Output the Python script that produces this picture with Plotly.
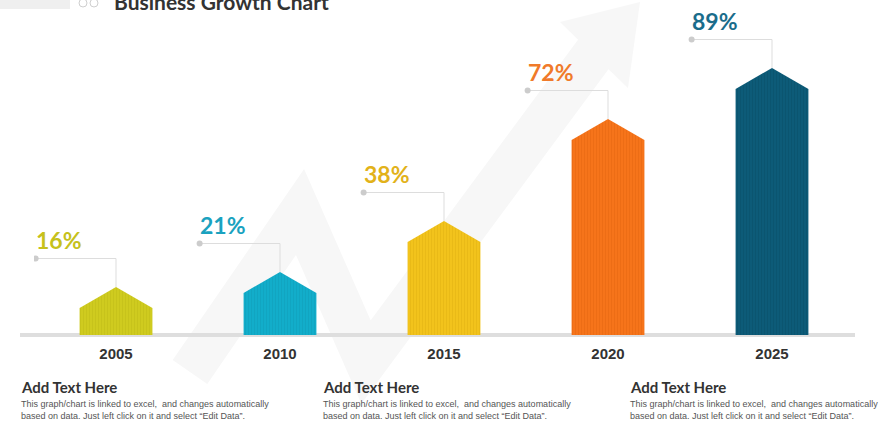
import plotly.graph_objects as go

# data
years = ["2005", "2010", "2015", "2020", "2025"]
growth = [16, 21, 38, 72, 89]
bar_colors = ["#cfcb1f", "#12adca", "#f2c31c", "#f6741a", "#0d5b78"]
stripe_colors = ["#b9b515", "#0f98b3", "#d9ab10", "#e0620c", "#084a63"]
label_colors = ["#c6c11c", "#1aa2bf", "#e2b21a", "#f07a2a", "#1a6c8b"]

title_text = "Business Growth Chart"
block_title = "Add Text Here"
block_body = ("This graph/chart is linked to excel,  and changes automatically<br>"
              "based on data. Just left click on it and select \u201cEdit Data\u201d.")
block_x = [19, 321, 628]

W, H = 889, 421
HALF = 0.222      # half bar width in category units
SHOULDER = 7      # roof height in value units
LEAD = 9.5        # leader line offset above peak


def px(x, y):
    return x / W, 1 - y / H


fig = go.Figure()

# bars (house shaped, vertical stripe texture)
for i, (yr, v) in enumerate(zip(years, growth)):
    fig.add_trace(go.Scatter(
        x=[i - HALF, i - HALF, i, i + HALF, i + HALF, i - HALF],
        y=[0, v - SHOULDER, v, v - SHOULDER, 0, 0],
        mode="lines",
        fill="toself",
        fillcolor=bar_colors[i],
        fillpattern=dict(shape="|", size=3, solidity=0.25,
                         fgcolor=stripe_colors[i], bgcolor=bar_colors[i]),
        line=dict(width=0, color=bar_colors[i]),
        hoverinfo="skip",
        showlegend=False,
    ))

# leader lines with dots
for i, v in enumerate(growth):
    fig.add_trace(go.Scatter(
        x=[i - 0.49, i, i],
        y=[v + LEAD, v + LEAD, v],
        mode="lines",
        line=dict(color="#dddddd", width=1),
        hoverinfo="skip",
        showlegend=False,
    ))
    fig.add_trace(go.Scatter(
        x=[i - 0.49], y=[v + LEAD],
        mode="markers",
        marker=dict(color="#cccccc", size=6),
        hoverinfo="skip",
        showlegend=False,
    ))
    fig.add_annotation(
        x=i - 0.5, y=v + LEAD + 0.8, xref="x", yref="y",
        text=f"{v}%", showarrow=False, xanchor="left", yanchor="bottom",
        font=dict(family="Lato", size=23, color=label_colors[i], weight="bold"),
    )

shapes = []
# faint background arrow
p = [px(190, 372), px(300, 212), px(366, 362), px(598, 48)]
path = "M " + " L ".join(f"{a:.4f},{b:.4f}" for a, b in p)
shapes.append(dict(type="path", path=path, xref="paper", yref="paper",
                   line=dict(color="#f7f7f7", width=42), layer="below"))
head = [px(560, 22), px(640, 2), px(628, 88)]
shapes.append(dict(type="path",
                   path="M " + " L ".join(f"{a:.4f},{b:.4f}" for a, b in head) + " Z",
                   xref="paper", yref="paper", fillcolor="#f7f7f7",
                   line=dict(width=0), layer="below"))
# base line
x0, y0 = px(20, 335)
x1, _ = px(855, 335)
shapes.append(dict(type="line", x0=x0, x1=x1, y0=y0, y1=y0, xref="paper", yref="paper",
                   line=dict(color="#dedede", width=4), layer="below"))
# header decoration
a, b = px(0, 0)
c, d = px(70, 9)
shapes.append(dict(type="rect", x0=a, y0=b, x1=c, y1=d, xref="paper", yref="paper",
                   fillcolor="#efefef", line=dict(width=0)))
for cx in (83, 94):
    a, b = px(cx - 4, -1)
    c, d = px(cx + 4, 7)
    shapes.append(dict(type="circle", x0=a, y0=b, x1=c, y1=d, xref="paper", yref="paper",
                       line=dict(color="#cfcfcf", width=1)))

fig.update_layout(shapes=shapes)

# title (cut at the top, as in the slide)
fig.add_annotation(x=112 / W, y=1 + 13 / H, xref="paper", yref="paper",
                   text=title_text, showarrow=False, xanchor="left", yanchor="top",
                   font=dict(family="Lato", size=21, color="#333333", weight="bold"))

# bottom text blocks
for bx in block_x:
    fig.add_annotation(x=bx / W, y=1 - 376 / H, xref="paper", yref="paper",
                       text=block_title, showarrow=False, xanchor="left", yanchor="top",
                       font=dict(family="Lato", size=15, color="#333333", weight="bold"))
    fig.add_annotation(x=bx / W, y=1 - 397 / H, xref="paper", yref="paper",
                       text=block_body, showarrow=False, xanchor="left", yanchor="top",
                       align="left",
                       font=dict(family="Liberation Sans", size=9, color="#555555"))

fig.update_layout(
    width=W, height=H,
    margin=dict(l=0, r=0, t=0, b=0),
    paper_bgcolor="white", plot_bgcolor="rgba(0,0,0,0)",
    xaxis=dict(domain=[34 / W, 854 / W], range=[-0.5, 4.5],
               tickvals=list(range(len(years))), ticktext=years,
               showgrid=False, zeroline=False, showline=False, ticks="",
               ticklabelstandoff=8,
               tickfont=dict(family="Liberation Sans Narrow, Liberation Sans",
                             size=15, color="#333333", weight="bold")),
    yaxis=dict(domain=[1 - 335 / H, 1 - 35 / H], range=[0, 100],
               showgrid=False, zeroline=False, showline=False,
               showticklabels=False, ticks=""),
    showlegend=False,
)

fig.write_html("out.html", config={"displayModeBar": False},
               post_script="document.body.style.margin='0';")
